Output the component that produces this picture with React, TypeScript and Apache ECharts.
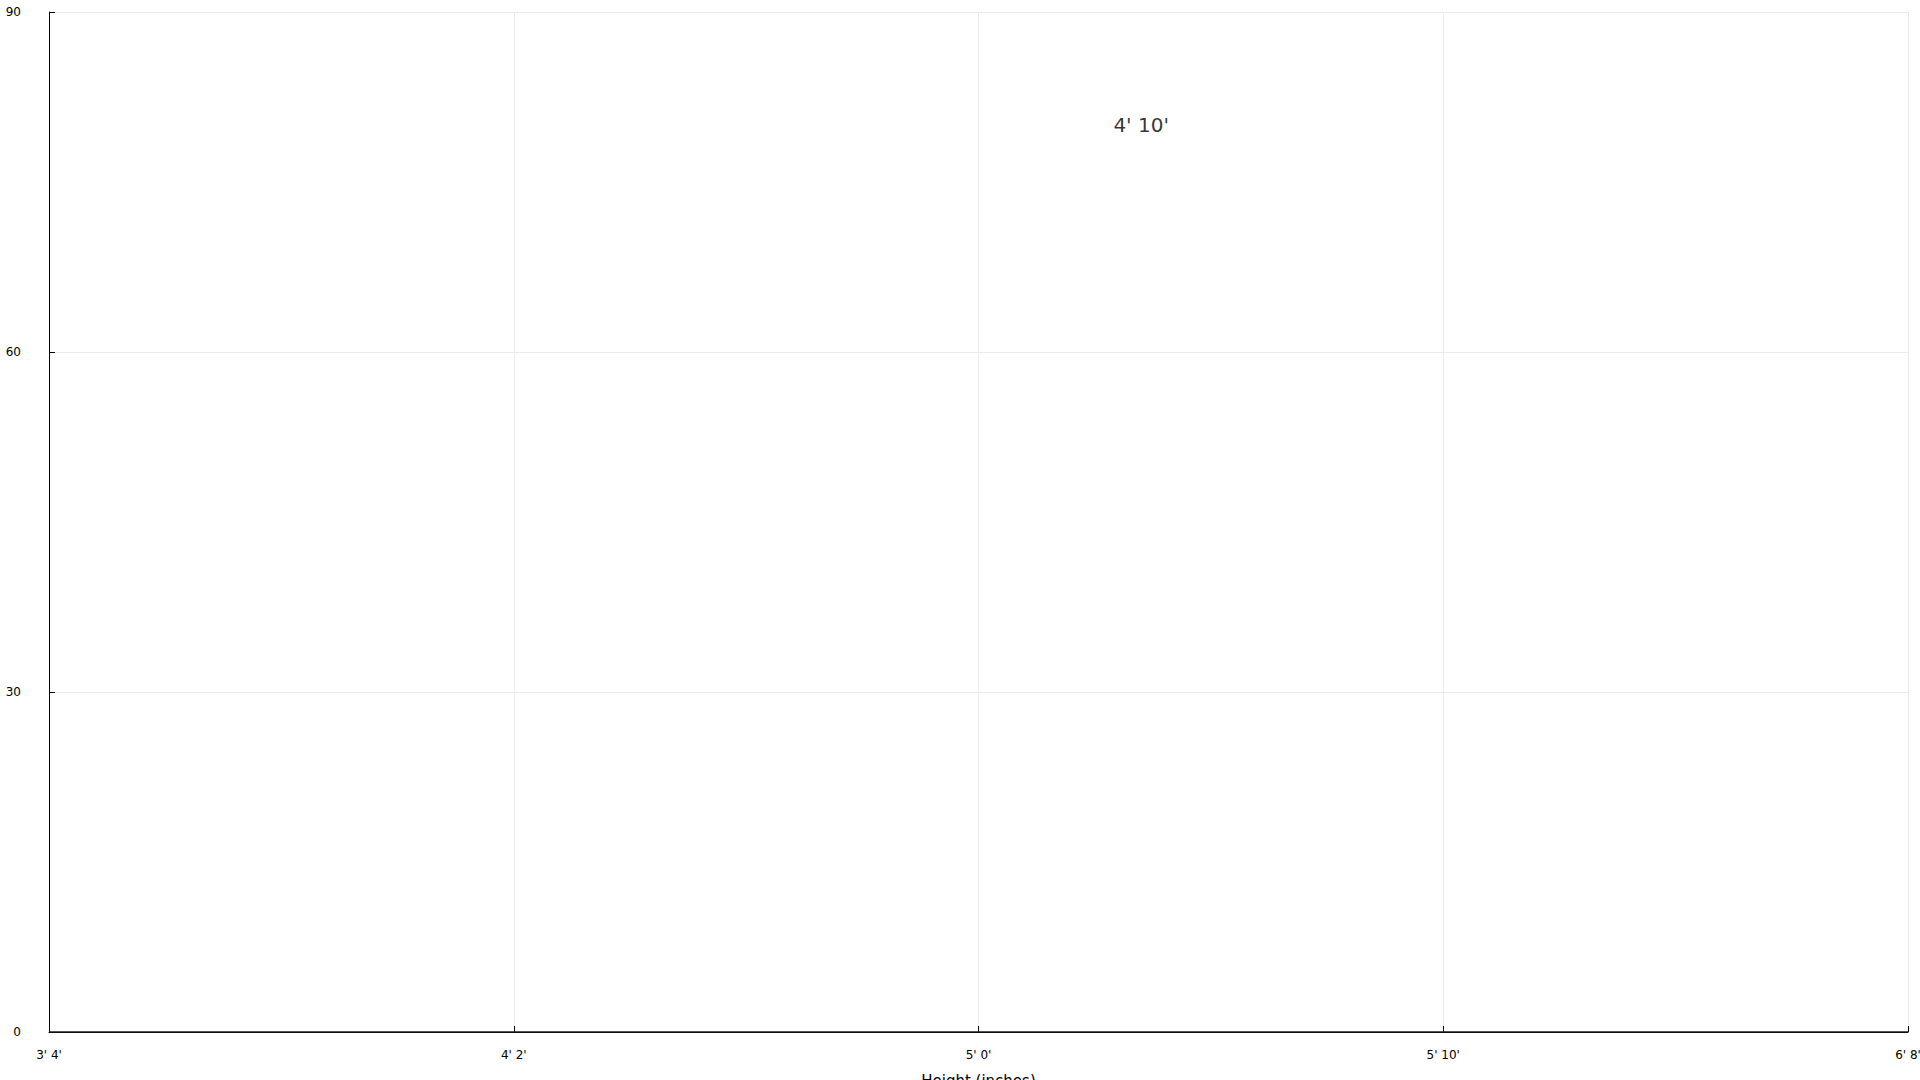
import React, { useEffect, useRef } from "react";
import * as echarts from "echarts";

const xTickValues = [40, 50, 60, 70, 80];
const xTickLabels = ["3' 4'", "4' 2'", "5' 0'", "5' 10'", "6' 8'"];
const yTickValues = [0, 30, 60, 90];
const binEdges = [40, 42.5, 45, 47.5, 50, 52.5, 55, 57.5, 60, 62.5, 65, 67.5, 70, 72.5, 75, 77.5, 80];
const binCounts = [0, 0, 0, 0, 0, 0, 0, 0, 0, 0, 0, 0, 0, 0, 0, 0, 0];
const annotationText = "4' 10'";
const annotationPoint = [63.5, 80];
const xAxisName = "Height (inches)";

const FONT = "DejaVu Sans";

export default function App() {
  const ref = useRef<HTMLDivElement>(null);
  useEffect(() => {
    const chart = echarts.init(ref.current!, null, { renderer: "svg" });
    chart.setOption({
      animation: false,
      backgroundColor: "#ffffff",
      textStyle: { fontFamily: FONT },
      grid: {
        left: 49,
        right: 12,
        top: 12,
        bottom: 48,
        containLabel: false,
        outerBoundsMode: "none",
      },
      xAxis: {
        type: "value",
        min: xTickValues[0],
        max: xTickValues[xTickValues.length - 1],
        interval: 10,
        name: xAxisName,
        nameLocation: "middle",
        nameGap: 41,
        nameTextStyle: { fontFamily: FONT, fontSize: 15, color: "#000" },
        axisLine: { show: true, onZero: false, lineStyle: { color: "#000", width: 1 } },
        axisTick: { show: true, inside: true, length: 6, lineStyle: { color: "#000", width: 1 } },
        axisLabel: {
          fontFamily: FONT,
          fontSize: 12,
          color: "#000",
          margin: 17,
          showMinLabel: true,
          showMaxLabel: true,
          formatter: (v: number) => {
            const i = xTickValues.indexOf(v);
            return i >= 0 ? xTickLabels[i] : "";
          },
        },
        splitLine: { show: true, lineStyle: { color: "#ebebeb", width: 1 } },
      },
      yAxis: {
        type: "value",
        min: yTickValues[0],
        max: yTickValues[yTickValues.length - 1],
        interval: 30,
        axisLine: { show: true, onZero: false, lineStyle: { color: "#000", width: 1 } },
        axisTick: { show: true, inside: true, length: 6, lineStyle: { color: "#000", width: 1 } },
        axisLabel: { fontFamily: FONT, fontSize: 12, color: "#000", margin: 28 },
        splitLine: { show: true, lineStyle: { color: "#ebebeb", width: 1 } },
      },
      series: [
        {
          type: "line",
          data: binEdges.map((e, i) => [e, binCounts[i]]),
          step: "end",
          symbol: "none",
          lineStyle: { color: "#1a1a1a", width: 1.5 },
          silent: true,
        },
        {
          type: "scatter",
          data: [annotationPoint],
          symbolSize: 0,
          silent: true,
          label: {
            show: true,
            position: "inside",
            formatter: () => annotationText,
            fontFamily: FONT,
            fontSize: 20,
            color: "#000",
          },
        },
      ],
    });
    return () => chart.dispose();
  }, []);
  return (
    <div
      ref={ref}
      style={{ position: "fixed", left: 0, top: 0, width: 1920, height: 1080, background: "#fff" }}
    />
  );
}
